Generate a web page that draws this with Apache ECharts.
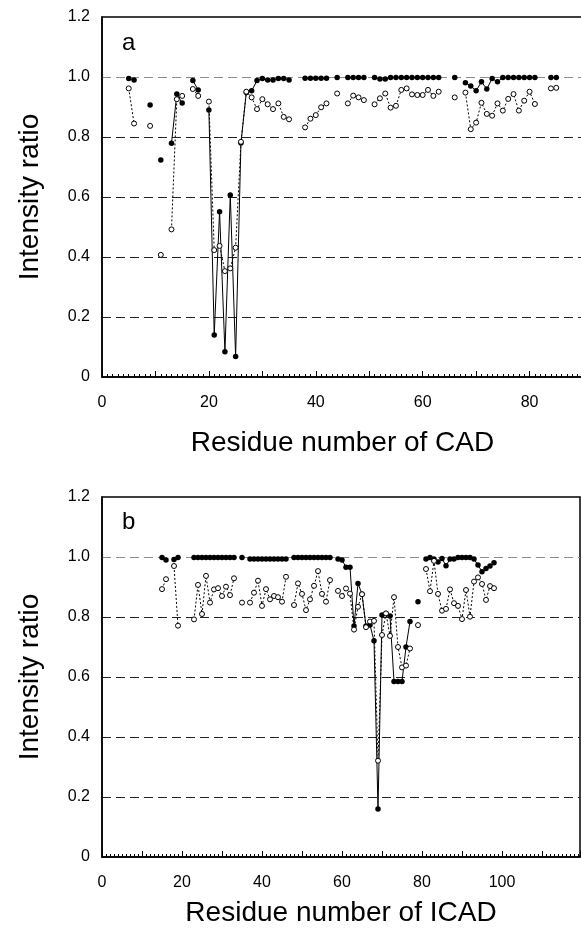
<!DOCTYPE html>
<html>
<head>
<meta charset="utf-8">
<script src="https://cdn.jsdelivr.net/npm/echarts@6/dist/echarts.min.js"></script>
<style>
html,body{margin:0;padding:0;background:#fff;}
#chart{width:581px;height:934px;}
</style>
</head>
<body>
<div id="chart"></div>
<script>
// ---------- Panel a (CAD) ----------
const residuesA = [5,6,7,8,9,10,11,12,13,14,15,16,17,18,19,20,21,22,23,24,25,26,27,28,29,30,31,32,33,34,35,36,37,38,39,40,41,42,43,44,45,46,47,48,49,50,51,52,53,54,55,56,57,58,59,60,61,62,63,64,65,66,67,68,69,70,71,72,73,74,75,76,77,78,79,80,81,82,83,84,85];
const filledA = [0.995,0.99,null,null,0.907,null,0.723,null,0.779,0.943,0.913,null,0.988,0.957,null,0.89,0.14,0.551,0.084,0.607,0.068,0.78,0.948,0.954,0.988,0.995,0.99,0.99,0.995,0.995,0.99,null,null,0.996,0.996,0.996,0.996,0.996,null,0.998,null,0.998,0.998,0.998,0.998,null,0.998,0.993,0.993,0.998,0.998,0.998,0.998,0.998,0.998,0.998,0.998,0.998,0.998,null,null,0.998,null,0.981,0.97,0.954,0.984,0.96,0.995,0.984,0.998,0.998,0.998,0.998,0.998,0.998,0.998,null,null,0.998,0.998];
const openA = [0.962,0.845,null,null,0.837,null,0.407,null,0.492,0.926,0.937,null,0.96,0.937,null,0.918,0.423,0.437,0.353,0.362,0.431,0.784,0.951,0.932,0.893,0.926,0.909,0.893,0.912,0.867,0.859,null,null,0.832,0.861,0.873,0.899,0.912,null,0.945,null,0.912,0.938,0.932,0.923,null,0.909,0.929,0.945,0.898,0.904,0.957,0.962,0.942,0.94,0.94,0.957,0.937,0.951,null,null,0.932,null,0.948,0.826,0.848,0.914,0.877,0.871,0.912,0.888,0.927,0.943,0.888,0.921,0.951,0.91,null,null,0.962,0.964];
const xTickLabelsA = [0,20,40,60,80];

// ---------- Panel b (ICAD) ----------
const residuesB = [15,16,17,18,19,20,21,22,23,24,25,26,27,28,29,30,31,32,33,34,35,36,37,38,39,40,41,42,43,44,45,46,47,48,49,50,51,52,53,54,55,56,57,58,59,60,61,62,63,64,65,66,67,68,69,70,71,72,73,74,75,76,77,78,79,80,81,82,83,84,85,86,87,88,89,90,91,92,93,94,95,96,97,98];
const filledB = [0.998,0.99,null,0.992,0.998,null,null,null,0.998,0.998,0.998,0.998,0.998,0.998,0.998,0.998,0.998,0.998,0.998,null,0.998,null,0.993,0.993,0.993,0.993,0.993,0.993,0.993,0.993,0.993,0.993,null,0.998,0.998,0.998,0.998,0.998,0.998,0.998,0.998,0.998,0.998,null,0.993,0.99,0.966,0.966,0.77,0.912,0.876,0.77,0.773,0.721,0.16,0.807,0.812,0.803,0.585,0.585,0.585,0.70,0.785,null,0.851,null,0.993,0.998,0.993,0.983,0.995,0.971,0.993,0.993,0.998,0.998,0.998,0.998,0.993,0.973,0.951,0.962,0.97,0.981];
const openB = [0.893,0.926,null,0.97,0.771,null,null,null,0.792,0.907,0.81,0.937,0.848,0.892,0.896,0.87,0.901,0.873,0.929,null,0.848,null,0.848,0.881,0.921,0.837,0.893,0.859,0.87,0.866,0.851,0.934,null,0.84,0.912,0.877,0.823,0.859,0.904,0.953,0.877,0.851,0.923,null,0.887,0.87,0.895,0.878,0.758,0.834,0.876,0.766,0.785,0.787,0.321,0.74,0.812,0.737,0.866,0.70,0.632,0.638,0.695,null,0.773,null,0.96,0.886,0.987,0.877,0.821,0.827,0.892,0.846,0.837,0.793,0.89,0.801,0.918,0.932,0.91,0.857,0.903,0.896];
const xTickLabelsB = [0,20,40,60,80,100];

const yTickLabels = ['0','0.2','0.4','0.6','0.8','1.0','1.2'];

const FONT = '"Liberation Sans", Arial, Helvetica, sans-serif';

function pairs(xs, ys) {
  return xs.map((x, i) => [x, ys[i] === null ? '-' : ys[i]]);
}

function xAxisCfg(gi, max, labels, name, nameGap) {
  return {
    type: 'value', gridIndex: gi, min: 0, max: max, interval: 10,
    axisLine: {show: true, onZero: false, lineStyle: {color: '#000', width: 1.5}},
    axisTick: {show: true, inside: true, length: 6, lineStyle: {color: '#000', width: 1}},
    minorTick: {show: true, splitNumber: 10, length: 3, lineStyle: {color: '#000', width: 1}},
    axisLabel: {
      color: '#000', fontSize: 16, fontFamily: FONT, margin: 18,
      showMaxLabel: false,
      formatter: v => labels.indexOf(v) >= 0 ? String(v) : ''
    },
    splitLine: {show: false},
    name: name, nameLocation: 'middle', nameGap: nameGap, nameMoveOverlap: false,
    nameTextStyle: {color: '#000', fontSize: 28, fontFamily: FONT}
  };
}

function yAxisCfg(gi) {
  return {
    type: 'value', gridIndex: gi, min: 0, max: 1.2, interval: 0.2,
    axisLine: {show: true, onZero: false, lineStyle: {color: '#000', width: 1.5}},
    axisTick: {show: false},
    axisLabel: {
      color: '#000', fontSize: 16, fontFamily: FONT, margin: 12,
      formatter: (v) => yTickLabels[Math.round(v / 0.2)]
    },
    splitLine: {
      show: true,
      lineStyle: {
        color: ['rgba(0,0,0,0)', '#222', '#222', '#222', '#222', '#8c8c8c', 'rgba(0,0,0,0)'],
        type: [9, 5], width: 1
      }
    },
    name: 'Intensity ratio', nameLocation: 'middle', nameGap: 58, nameMoveOverlap: false,
    nameTextStyle: {color: '#000', fontSize: 28, fontFamily: FONT}
  };
}

function filledSeries(xi, data) {
  return {
    type: 'line', xAxisIndex: xi, yAxisIndex: xi, data: data,
    symbol: 'circle', symbolSize: 5.5, showSymbol: true, connectNulls: false,
    lineStyle: {color: '#000', width: 1, type: 'solid'},
    itemStyle: {color: '#000', borderWidth: 0},
    z: 3, silent: true
  };
}
function openSeries(xi, data) {
  return {
    type: 'line', xAxisIndex: xi, yAxisIndex: xi, data: data,
    symbol: 'circle', symbolSize: 5, showSymbol: true, connectNulls: false,
    lineStyle: {color: '#000', width: 1, type: [2, 2]},
    itemStyle: {color: '#fff', borderColor: '#000', borderWidth: 1},
    z: 4, silent: true
  };
}

const chart = echarts.init(document.getElementById('chart'), null, {renderer: 'canvas'});
chart.setOption({
  animation: false,
  backgroundColor: '#fff',
  textStyle: {fontFamily: FONT},
  title: [
    {text: 'a', left: 122, top: 31, padding: 0, textStyle: {fontSize: 24, fontWeight: 'normal', color: '#000', fontFamily: FONT}},
    {text: 'b', left: 122, top: 510, padding: 0, textStyle: {fontSize: 24, fontWeight: 'normal', color: '#000', fontFamily: FONT}}
  ],
  grid: [
    {left: 102, top: 17, width: 481, height: 360, containLabel: false, outerBoundsMode: 'none',
     show: true, borderColor: '#000', borderWidth: 1.5, backgroundColor: 'transparent'},
    {left: 102, top: 497, width: 478, height: 360, containLabel: false, outerBoundsMode: 'none',
     show: true, borderColor: '#000', borderWidth: 1.5, backgroundColor: 'transparent'}
  ],
  xAxis: [
    xAxisCfg(0, 90, xTickLabelsA, 'Residue number of CAD', 52),
    xAxisCfg(1, 119.5, xTickLabelsB, 'Residue number of ICAD', 42)
  ],
  yAxis: [yAxisCfg(0), yAxisCfg(1)],
  series: [
    filledSeries(0, pairs(residuesA, filledA)),
    openSeries(0, pairs(residuesA, openA)),
    filledSeries(1, pairs(residuesB, filledB)),
    openSeries(1, pairs(residuesB, openB))
  ]
});
</script>
</body>
</html>
